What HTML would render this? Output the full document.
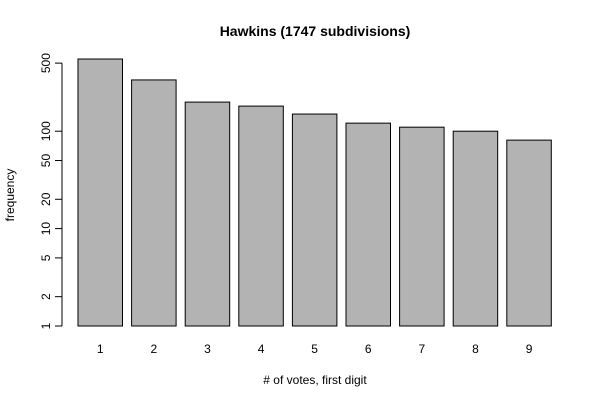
<!DOCTYPE html>
<html><head><meta charset="utf-8"><style>
body{margin:0;background:#fff}
svg text{font-family:"Liberation Sans",Arial,sans-serif}
</style></head><body>
<svg id="chart" width="600" height="400" xmlns="http://www.w3.org/2000/svg">
<rect width="600" height="400" fill="#fff"/>
<text x="315" y="36" font-size="14" font-weight="bold" text-anchor="middle">Hawkins (1747 subdivisions)</text>
<text x="315" y="384" font-size="12" text-anchor="middle"># of votes, first digit</text>
<text transform="translate(14,195) rotate(-90)" font-size="12" text-anchor="middle">frequency</text>
<g id="bars"></g>
<g id="yaxis"></g>
<g id="xlabels"></g>
</svg>
<script>
const categories = ["1","2","3","4","5","6","7","8","9"];
const counts = [551, 336, 199, 181, 150, 121, 110, 100, 81];
const yTicks = [1, 2, 5, 10, 20, 50, 100, 500];
const NS = "http://www.w3.org/2000/svg";
function y(v){ return 326 - Math.log10(v) * 97.4; }
function xLeft(i){ return 78 + i * 53.6; }
const bw = 44.5;
const bars = document.getElementById('bars');
const xl = document.getElementById('xlabels');
counts.forEach((c,i)=>{
  const r = document.createElementNS(NS,'rect');
  r.setAttribute('x', xLeft(i)); r.setAttribute('y', y(c));
  r.setAttribute('width', bw); r.setAttribute('height', y(1) - y(c));
  r.setAttribute('fill', '#b3b3b3'); r.setAttribute('stroke', '#000'); r.setAttribute('stroke-width', '1');
  
  
  bars.appendChild(r);
  const t = document.createElementNS(NS,'text');
  t.setAttribute('x', xLeft(i) + bw/2); t.setAttribute('y', 353);
  t.setAttribute('font-size', '12'); t.setAttribute('text-anchor', 'middle');
  t.textContent = categories[i];
  
  
  xl.appendChild(t);
});
const ya = document.getElementById('yaxis');
const ax = document.createElementNS(NS,'line');
ax.setAttribute('x1', 62); ax.setAttribute('x2', 62);
ax.setAttribute('y1', y(1)); ax.setAttribute('y2', y(500));
ax.setAttribute('stroke', '#000');


ya.appendChild(ax);
yTicks.forEach(v=>{
  const l = document.createElementNS(NS,'line');
  l.setAttribute('x1', 55); l.setAttribute('x2', 62);
  l.setAttribute('y1', y(v)); l.setAttribute('y2', y(v));
  l.setAttribute('stroke', '#000');
  
  
  ya.appendChild(l);
  const t = document.createElementNS(NS,'text');
  t.setAttribute('transform', 'translate(50,' + y(v) + ') rotate(-90)');
  t.setAttribute('font-size', '12'); t.setAttribute('text-anchor', 'middle');
  t.textContent = v;
  
  
  ya.appendChild(t);
});
</script>
</body></html>
